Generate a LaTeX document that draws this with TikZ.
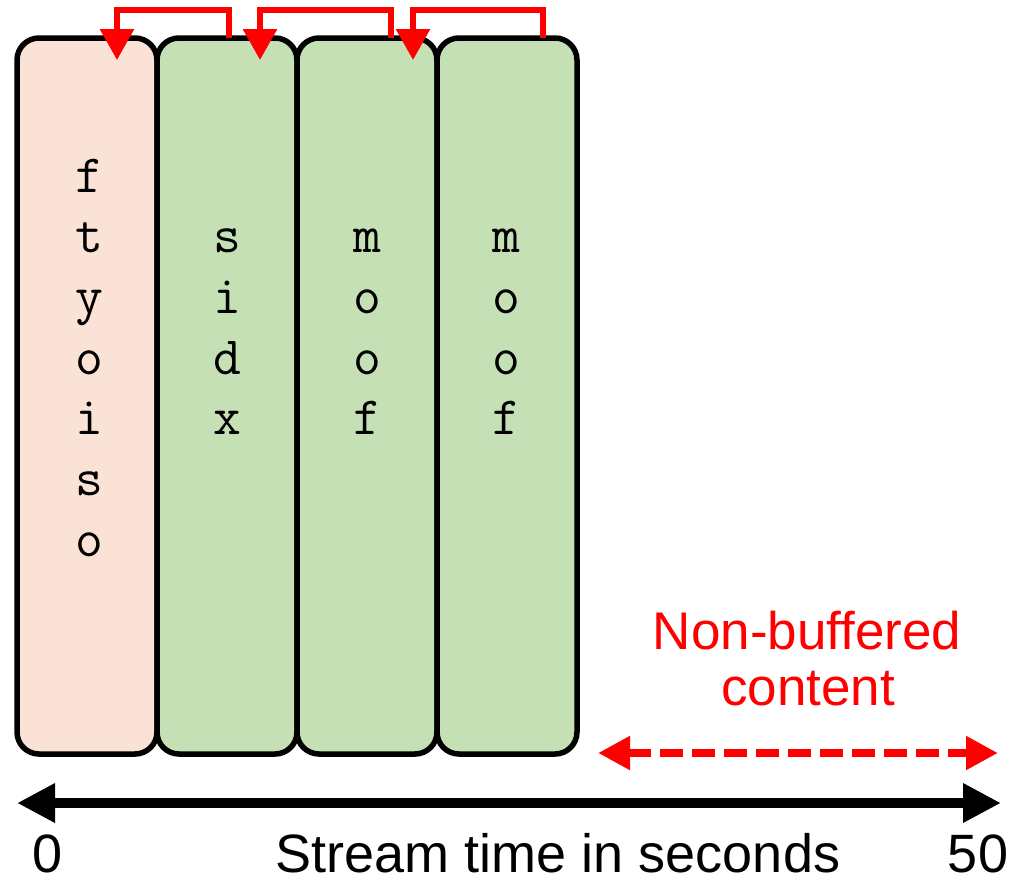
\documentclass[tikz,border=0pt]{standalone}
\usepackage{fontspec}
\setmainfont{Liberation Sans}
\usetikzlibrary{arrows.meta}
\definecolor{peach}{RGB}{250,227,214}
\definecolor{leaf}{RGB}{197,224,180}
\begin{document}
\begin{tikzpicture}[x=1pt,y=-1pt,
  seg/.style={draw=black, line width=5.5pt, rounded corners=22pt, minimum width=140pt, minimum height=716pt, outer sep=0pt, inner sep=0pt},
  mono/.style={font=\ttfamily\fontsize{54}{54}\selectfont, anchor=base, inner sep=0pt},
  lab/.style={font=\fontsize{54}{54}\selectfont, anchor=base, inner sep=0pt},
  redlab/.style={font=\fontsize{53}{53}\selectfont, text=red, anchor=base, inner sep=0pt},
  redlink/.style={draw=red, line width=6pt, -{Triangle[length=31pt,width=33pt]}},
  axisline/.style={draw=black, line width=10pt, {Triangle[length=38pt,width=37pt]}-{Triangle[length=38pt,width=37pt]}},
  nbline/.style={draw=red, line width=8pt, dash pattern=on 23pt off 9pt, {Triangle[length=32pt,width=32pt]}-{Triangle[length=32pt,width=32pt]}}
]
\useasboundingbox (0,0) rectangle (1028,887);

% boxes
\node[seg, fill=peach] (b1) at (87,396) {};
\node[seg, fill=leaf] (b2) at (227,396) {};
\node[seg, fill=leaf] (b3) at (367,396) {};
\node[seg, fill=leaf] (b4) at (507,396) {};

% letters
\foreach \ch [count=\i from 0] in {f,t,y,o,i,s,o}
  \node[mono] (la\i) at (89,192+60.7*\i) {\ch};
\foreach \ch [count=\i from 1] in {s,i,d,x}
  \node[mono] (lb\i) at (227,192+60.7*\i) {\ch};
\foreach \ch [count=\i from 1] in {m,o,o,f}
  \node[mono] (lc\i) at (367,192+60.7*\i) {\ch};
\foreach \ch [count=\i from 1] in {m,o,o,f}
  \node[mono] (ld\i) at (506,192+60.7*\i) {\ch};

% top red links
\draw[redlink] ([xshift=2pt]b2.north) -- ++(0,-28) -| ([xshift=30pt,yshift=-22pt]b1.north);
\draw[redlink] ([xshift=24pt]b3.north) -- ++(0,-28) -| ([xshift=33pt,yshift=-22pt]b2.north);
\draw[redlink] ([xshift=36pt]b4.north) -- ++(0,-28) -| ([xshift=46pt,yshift=-22pt]b3.north);

% non-buffered range
\coordinate (n0) at (598,753);
\coordinate (n1) at (998,753);
\draw[nbline] (n0) -- (n1);
\node[redlab] (nb1) at (807,649) {Non-buffered};
\node[redlab] (nb2) at (808,705) {content};

% time axis
\coordinate (t0) at (17,803);
\coordinate (t50) at (1001,803);
\draw[axisline] (t0) -- (t50);
\node[lab] (zero) at (48,872) {0};
\node[lab] (fifty) at (978,872) {50};
\node[lab] (axtitle) at (558,872) {Stream time in seconds};
\end{tikzpicture}
\end{document}
